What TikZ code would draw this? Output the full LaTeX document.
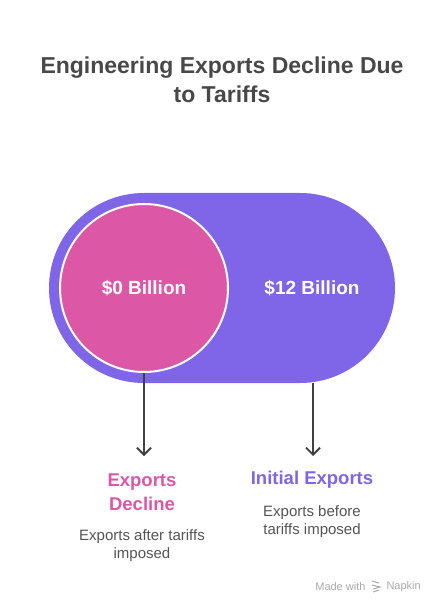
\documentclass[tikz,border=0pt]{standalone}
\usepackage{fontspec}
\setmainfont{Liberation Sans}
\usetikzlibrary{arrows.meta}
\definecolor{pillc}{HTML}{7F66E8}
\definecolor{pinkc}{HTML}{DC58A7}
\definecolor{titlec}{HTML}{484848}
\definecolor{descc}{HTML}{555555}
\definecolor{arrowc}{HTML}{404040}
\definecolor{markc}{HTML}{AAAAAA}
\tikzset{
  valtext/.style={text=white, font=\bfseries\fontsize{19}{22}\selectfont},
  headtext/.style={font=\bfseries\fontsize{18.5}{24}\selectfont, align=center},
  desctext/.style={text=descc, font=\fontsize{15}{18}\selectfont, align=center},
  conn/.style={draw=arrowc, line width=1.8pt, -{Straight Barb[length=7pt,width=14pt,line width=1.8pt]}}
}
\begin{document}
\begin{tikzpicture}[x=1pt,y=-1pt]
\useasboundingbox[fill=white] (0,0) rectangle (444,612);
% title
\node[text=titlec, font=\bfseries\fontsize{23}{29}\selectfont, align=center] (title) at (222,80) {Engineering Exports Decline Due\\to Tariffs};
% pill
\fill[pillc, rounded corners=95pt] (49,193) rectangle (395,383);
\coordinate (pillbottom) at (313,383);
% circle
\node[circle, fill=pinkc, draw=white, line width=2pt, minimum size=168pt, inner sep=0pt] (circ) at (144,288) {};
\node[valtext] (v0) at (144,288) {\$0 Billion};
\node[valtext] (v12) at (312,288) {\$12 Billion};
% arrows
\coordinate (a1end) at (144,456);
\coordinate (a2end) at (313,456);
\draw[conn] (circ.south) -- (a1end);
\draw[conn] (pillbottom) -- (a2end);
% labels
\node[headtext, text=pinkc] (h1) at (142,492) {Exports\\Decline};
\node[desctext] (d1) at (142,546) {Exports after tariffs\\imposed};
\node[headtext, text=pillc] (h2) at (312,480) {Initial Exports};
\node[desctext] (d2) at (312,522) {Exports before\\tariffs imposed};
% watermark
\node[text=markc, font=\fontsize{11}{13}\selectfont, anchor=east] (made) at (369,587) {Made with};
\node[text=markc, font=\fontsize{11}{13}\selectfont, anchor=west] (napkin) at (383,587) {Napkin};
\begin{scope}[draw=markc, line width=1pt]
\draw (372,581) -- (379,583);
\draw (372,585) -- (380,587) -- (373,589);
\draw (373,592) -- (379,590);
\end{scope}
\end{tikzpicture}
\end{document}
